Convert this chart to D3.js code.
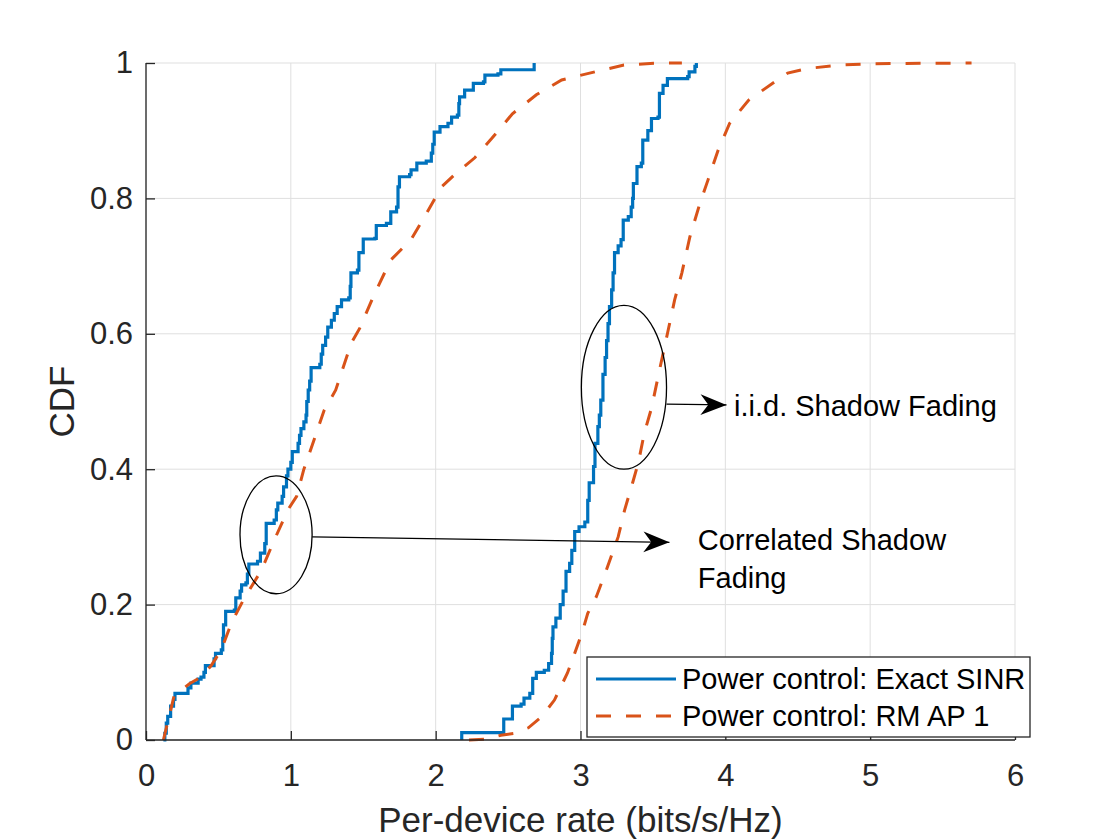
<!DOCTYPE html>
<html>
<head>
<meta charset="utf-8">
<script src="https://cdn.jsdelivr.net/npm/d3@7/dist/d3.min.js"></script>
<style>
  body { margin: 0; background: #fff; }
  svg { font-family: Arial, "Liberation Sans", Helvetica, sans-serif; }
</style>
</head>
<body>
<svg id="chart" width="1120" height="840"></svg>
<script>
// correlated shadow fading, exact SINR (step CDF: x where it jumps, y after jump)
let corrExactX = [0.12, 0.13, 0.14, 0.15, 0.17, 0.19, 0.20, 0.29, 0.31, 0.36, 0.38, 0.40, 0.41, 0.47, 0.48, 0.52, 0.53, 0.535, 0.55, 0.61,
    0.62, 0.65, 0.66, 0.69, 0.70, 0.71, 0.77, 0.79, 0.82, 0.83, 0.885, 0.90, 0.91, 0.94, 0.95, 0.97, 0.98, 1.00, 1.01, 1.05,
    1.06, 1.07, 1.09, 1.105, 1.11, 1.12, 1.13, 1.14, 1.20, 1.21, 1.22, 1.24, 1.255, 1.28, 1.30, 1.32, 1.35, 1.40, 1.41, 1.415,
    1.46, 1.47, 1.50, 1.58, 1.59, 1.66, 1.69, 1.73, 1.74, 1.75, 1.82, 1.83, 1.87, 1.935, 1.97, 1.98, 1.99, 2.03, 2.085, 2.11,
    2.15, 2.16, 2.165, 2.20, 2.26, 2.33, 2.34, 2.43, 2.45, 2.68];
let corrExactY = [0, 0.01, 0.025, 0.035, 0.05, 0.06, 0.069, 0.077, 0.084, 0.09, 0.093, 0.10, 0.11, 0.12, 0.128, 0.133, 0.15, 0.17, 0.19, 0.192,
    0.21, 0.22, 0.229, 0.232, 0.245, 0.26, 0.264, 0.276, 0.29, 0.32, 0.325, 0.34, 0.35, 0.36, 0.374, 0.39, 0.40, 0.41, 0.426, 0.438,
    0.45, 0.46, 0.47, 0.48, 0.50, 0.517, 0.53, 0.55, 0.555, 0.57, 0.583, 0.595, 0.61, 0.62, 0.63, 0.64, 0.65, 0.653, 0.67, 0.69,
    0.694, 0.72, 0.74, 0.741, 0.76, 0.763, 0.78, 0.787, 0.817, 0.832, 0.835, 0.842, 0.852, 0.855, 0.867, 0.88, 0.898, 0.906, 0.911, 0.92,
    0.923, 0.94, 0.95, 0.96, 0.97, 0.972, 0.982, 0.984, 0.99, 1.0];

// correlated shadow fading, RM AP 1
let corrRmX = [0.12, 0.195, 0.25, 0.30, 0.38, 0.45, 0.52, 0.59, 0.68, 0.795, 0.885, 0.98, 1.04, 1.09, 1.16, 1.23, 1.31, 1.417, 1.475, 1.58,
    1.69, 1.83, 1.95, 2.04, 2.13, 2.27, 2.385, 2.53, 2.695, 2.87, 3.10, 3.30, 3.55, 3.70];
let corrRmY = [0, 0.066, 0.075, 0.083, 0.093, 0.11, 0.133, 0.173, 0.21, 0.25, 0.295, 0.34, 0.36, 0.40, 0.443, 0.487, 0.517, 0.586, 0.608, 0.66,
    0.709, 0.739, 0.783, 0.817, 0.835, 0.86, 0.888, 0.925, 0.953, 0.975, 0.987, 0.997, 1.0, 1.0];

// i.i.d. shadow fading, exact SINR (step CDF)
let iidExactX = [2.18, 2.18, 2.47, 2.53, 2.59, 2.61, 2.65, 2.67, 2.695, 2.75, 2.78, 2.80, 2.805, 2.81, 2.83, 2.86, 2.88, 2.90, 2.925, 2.94,
    2.96, 2.99, 3.03, 3.05, 3.06, 3.09, 3.10, 3.12, 3.13, 3.14, 3.155, 3.17, 3.18, 3.19, 3.20, 3.215, 3.225, 3.235, 3.26, 3.28,
    3.295, 3.33, 3.35, 3.36, 3.365, 3.39, 3.42, 3.43, 3.465, 3.49, 3.535, 3.545, 3.57, 3.60, 3.74, 3.75, 3.79, 3.80];
let iidExactY = [0, 0.011, 0.031, 0.05, 0.053, 0.062, 0.069, 0.091, 0.10, 0.103, 0.113, 0.128, 0.15, 0.167, 0.18, 0.20, 0.22, 0.249, 0.261, 0.28,
    0.308, 0.315, 0.322, 0.354, 0.38, 0.404, 0.438, 0.463, 0.48, 0.502, 0.54, 0.565, 0.59, 0.615, 0.64, 0.665, 0.69, 0.72, 0.73, 0.739,
    0.768, 0.773, 0.787, 0.80, 0.822, 0.847, 0.852, 0.886, 0.90, 0.918, 0.92, 0.955, 0.967, 0.977, 0.98, 0.987, 0.995, 1.0];

// i.i.d. shadow fading, RM AP 1
let iidRmX = [2.23, 2.34, 2.45, 2.545, 2.64, 2.73, 2.82, 2.91, 2.96, 3.01, 3.05, 3.11, 3.17, 3.21, 3.26, 3.305, 3.36, 3.40, 3.44, 3.49,
    3.55, 3.60, 3.65, 3.70, 3.755, 3.825, 3.88, 3.95, 4.03, 4.16, 4.34, 4.43, 4.57, 4.80, 5.03, 5.70];
let iidRmY = [0, 0.001, 0.007, 0.01, 0.018, 0.034, 0.059, 0.099, 0.128, 0.158, 0.187, 0.212, 0.246, 0.27, 0.30, 0.34, 0.38, 0.41, 0.453, 0.49,
    0.551, 0.60, 0.65, 0.69, 0.743, 0.793, 0.827, 0.871, 0.911, 0.945, 0.972, 0.985, 0.992, 0.997, 0.999, 1.0];

let xTicks = [0, 1, 2, 3, 4, 5, 6];
let yTicks = [0, 0.2, 0.4, 0.6, 0.8, 1];
let legendLabels = ["Power control: Exact SINR", "Power control: RM AP 1"];

// annotations in data units
let ellipses = [{cx: 0.898, cy: 0.303, rx: 0.249, ry: 0.087}, {cx: 3.30, cy: 0.521, rx: 0.294, ry: 0.121}];
let arrows = [{x1: 1.147, y1: 0.30, x2: 3.614, y2: 0.292}, {x1: 3.594, y1: 0.496, x2: 4.008, y2: 0.495}];

let blue = "#0072BD", orange = "#D95319";
let m = {left: 146, top: 63, right: 105, bottom: 100};
let W = 1120, H = 840;

let svg = d3.select("#chart");
let x = d3.scaleLinear().domain([0, 6]).range([m.left, W - m.right]);
let y = d3.scaleLinear().domain([0, 1]).range([H - m.bottom, m.top]);

// grid
svg.append("g").selectAll("line").data(xTicks).enter().append("line")
    .attr("x1", d => x(d)).attr("x2", d => x(d))
    .attr("y1", y(0)).attr("y2", y(1))
    .attr("stroke", "#dfdfdf").attr("stroke-width", 1);
svg.append("g").selectAll("line").data(yTicks).enter().append("line")
    .attr("x1", x(0)).attr("x2", x(6))
    .attr("y1", d => y(d)).attr("y2", d => y(d))
    .attr("stroke", "#dfdfdf").attr("stroke-width", 1);

let zip = (xs, ys) => xs.map((v, i) => [v, ys[i]]);
let stepLine = d3.line().x(d => x(d[0])).y(d => y(d[1])).curve(d3.curveStepAfter);
let line = d3.line().x(d => x(d[0])).y(d => y(d[1]));

let plot = svg.append("g");
plot.append("path").attr("d", stepLine(zip(corrExactX, corrExactY)))
    .attr("fill", "none").attr("stroke", blue).attr("stroke-width", 3.2);
plot.append("path").attr("d", line(zip(corrRmX, corrRmY)))
    .attr("fill", "none").attr("stroke", orange).attr("stroke-width", 3).attr("stroke-dasharray", "15,15");
plot.append("path").attr("d", stepLine(zip(iidExactX, iidExactY)))
    .attr("fill", "none").attr("stroke", blue).attr("stroke-width", 3.2);
plot.append("path").attr("d", line(zip(iidRmX, iidRmY)))
    .attr("fill", "none").attr("stroke", orange).attr("stroke-width", 3).attr("stroke-dasharray", "15,15");

// axes
let xAx = d3.axisBottom(x).tickValues(xTicks).tickSize(-9).tickPadding(24).tickFormat(d3.format("d"));
let yAx = d3.axisLeft(y).tickValues(yTicks).tickSize(-9).tickPadding(13).tickFormat(d => d === 0 || d === 1 ? d : d3.format(".1f")(d));
let gx = svg.append("g").attr("transform", `translate(0,${y(0)})`).call(xAx);
let gy = svg.append("g").attr("transform", `translate(${x(0)},0)`).call(yAx);
[gx, gy].forEach(g => {
    g.select(".domain").attr("stroke", "#262626").attr("stroke-width", 1.3);
    g.selectAll(".tick line").attr("stroke", "#262626").attr("stroke-width", 1.3);
    g.selectAll(".tick text").attr("fill", "#262626").style("font-size", "31px");
});
gx.select(".domain").attr("d", `M${x(0)},0H${x(6)}`);
gy.select(".domain").attr("d", `M0,${y(0)}V${y(1)}`);

svg.append("text").attr("x", (x(0) + x(6)) / 2).attr("y", 832)
    .attr("text-anchor", "middle").attr("fill", "#262626").style("font-size", "35px")
    .text("Per-device rate (bits/s/Hz)");
svg.append("text").attr("transform", `translate(74,${(y(0) + y(1)) / 2}) rotate(-90)`)
    .attr("text-anchor", "middle").attr("fill", "#262626").style("font-size", "35px")
    .text("CDF");

// annotations
svg.append("defs").append("marker").attr("id", "head")
    .attr("viewBox", "0 0 10 10").attr("refX", 10).attr("refY", 5)
    .attr("markerWidth", 28).attr("markerHeight", 26).attr("markerUnits", "userSpaceOnUse")
    .attr("orient", "auto")
    .append("path").attr("d", "M0,1 L10,5 L0,9 L3,5 Z").attr("fill", "#000");

let ann = svg.append("g");
ann.selectAll("ellipse").data(ellipses).enter().append("ellipse")
    .attr("cx", d => x(d.cx)).attr("cy", d => y(d.cy))
    .attr("rx", d => x(d.rx) - x(0)).attr("ry", d => y(0) - y(d.ry))
    .attr("fill", "none").attr("stroke", "#000").attr("stroke-width", 1.3);
ann.selectAll("line").data(arrows).enter().append("line")
    .attr("x1", d => x(d.x1)).attr("y1", d => y(d.y1))
    .attr("x2", d => x(d.x2)).attr("y2", d => y(d.y2))
    .attr("stroke", "#000").attr("stroke-width", 1.3)
    .attr("marker-end", "url(#head)");

ann.append("text").attr("x", x(4.06)).attr("y", y(0.494)).attr("dy", "0.35em")
    .style("font-size", "29px").attr("fill", "#000").text("i.i.d. Shadow Fading");
ann.append("text").attr("x", x(3.81)).attr("y", y(0.295)).attr("dy", "0.35em")
    .style("font-size", "29px").attr("fill", "#000").text("Correlated Shadow");
ann.append("text").attr("x", x(3.81)).attr("y", y(0.24)).attr("dy", "0.35em")
    .style("font-size", "29px").attr("fill", "#000").text("Fading");

// legend
let lg = svg.append("g").attr("transform", "translate(587,657)");
lg.append("rect").attr("width", 443).attr("height", 80)
    .attr("fill", "#fff").attr("stroke", "#262626").attr("stroke-width", 1.3);
let rows = lg.selectAll(".row").data(legendLabels).enter().append("g")
    .attr("transform", (d, i) => `translate(0,${22 + i * 37})`);
rows.append("line").attr("x1", 9).attr("x2", 89)
    .attr("stroke", (d, i) => i === 0 ? blue : orange).attr("stroke-width", 3.2)
    .attr("stroke-dasharray", (d, i) => i === 0 ? null : "15,15");
rows.append("text").attr("x", 95).attr("dy", "0.35em")
    .style("font-size", "29px").attr("fill", "#000").text(d => d);
</script>
</body>
</html>
